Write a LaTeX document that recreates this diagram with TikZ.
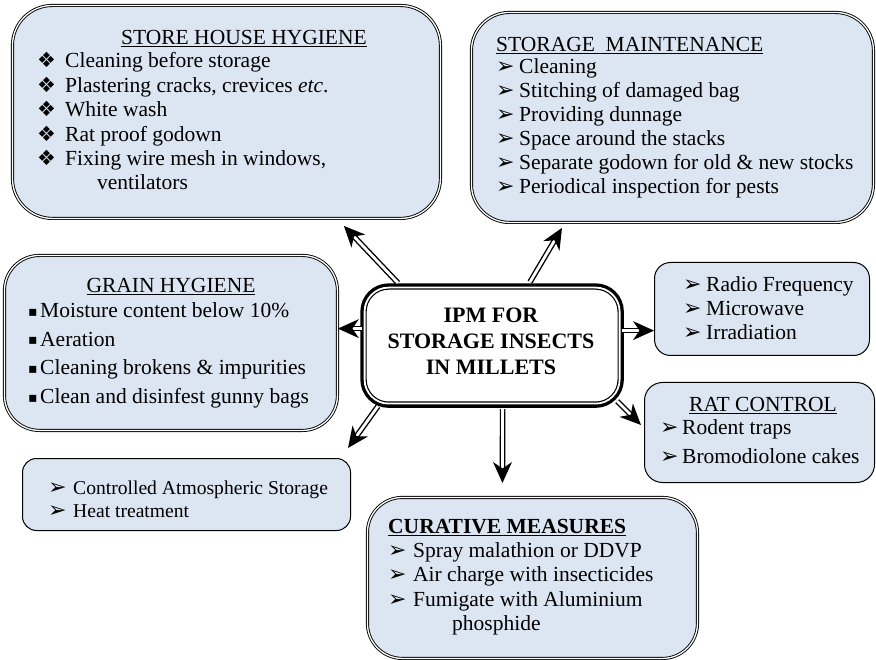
\documentclass[tikz,border=0pt]{standalone}
\usepackage{fontspec}
\setmainfont{Liberation Serif}
\newfontfamily\symfont{DejaVu Sans}
\usetikzlibrary{calc}

\definecolor{boxblue}{RGB}{220,230,242}
% bullets
\newcommand{\bdia}{\makebox[28pt][l]{\symfont\fontsize{21}{21}\selectfont ❖}}
\newcommand{\barr}[1][23pt]{\makebox[#1][l]{\symfont\fontsize{22}{22}\selectfont ➢}}
\newcommand{\bsq}{\makebox[12pt][l]{\raisebox{1.5pt}{\symfont\fontsize{14}{14}\selectfont ▪}}}

\begin{document}
\begin{tikzpicture}[x=1pt,y=-1pt,
		dblbox/.style={draw,line width=0.9pt,double=white,double distance=1.3pt,fill=boxblue,anchor=north west,inner sep=0pt},
		sglbox/.style={draw,line width=1pt,fill=boxblue,anchor=north west,inner sep=0pt},
		ipmbox/.style={draw,line width=1.2pt,double=white,double distance=1.8pt,fill=white,preaction={draw,line width=8.5pt},anchor=north west,inner sep=0pt},
		item/.style={anchor=base west,inner sep=0pt,font=\fontsize{21.5}{24}\selectfont},
		head/.style={anchor=base,inner sep=0pt,font=\fontsize{21.5}{24}\selectfont},
		bold/.style={font=\fontsize{22}{24}\selectfont\bfseries},
		conn/.style={draw,line width=1.4pt,double=white,double distance=2.8pt,shorten >=12pt},
		tiphead/.style={fill=black}]
	\useasboundingbox (0,0) rectangle (876,660);
	%% boxes
	\node (store) at (12,5) [dblbox,rounded corners=40pt,minimum width=428pt,minimum height=213pt] {};
	\node (maint) at (471,12) [dblbox,rounded corners=38pt,minimum width=402pt,minimum height=210pt] {};
	\node (grain) at (4,255) [dblbox,rounded corners=35pt,minimum width=333pt,minimum height=175pt] {};
	\node (ipm) at (364,287) [ipmbox,rounded corners=24pt,minimum width=255pt,minimum height=116pt] {};
	\node (radio) at (654,262) [sglbox,rounded corners=16pt,minimum width=215pt,minimum height=93pt] {};
	\node (rat) at (644,382) [sglbox,rounded corners=18pt,minimum width=230pt,minimum height=100pt] {};
	\node (ctrl) at (22,458) [sglbox,rounded corners=14pt,minimum width=328pt,minimum height=72pt] {};
	\node (cure) at (367,497) [dblbox,rounded corners=35pt,minimum width=330pt,minimum height=161pt] {};
	%% texts
	\node (sh-0) at (244,45) [head] {\underline{STORE HOUSE HYGIENE}};
	\foreach \t [count=\i] in {Cleaning before storage, {Plastering cracks, crevices \emph{etc}.}, White wash, Rat proof godown, {Fixing wire mesh in windows,}}
		\node (sh-\i) at (37,{43.5+24.5*\i}) [item] {\bdia\t};
	\node (sh-6) at (97,190) [item] {ventilators};
	\node (sm-0) at (496,52) [item] {\underline{STORAGE\ \ MAINTENANCE}};
	\foreach \t [count=\i] in {Cleaning, Stitching of damaged bag, Providing dunnage, Space around the stacks, Separate godown for old \& new stocks, Periodical inspection for pests}
		\node (sm-\i) at (496,{50+24*\i}) [item] {\barr\t};
	\node (gh-0) at (171,293) [head] {\underline{GRAIN HYGIENE}};
	\foreach \t [count=\i] in {Moisture content below 10\%, Aeration, Cleaning brokens \& impurities, Clean and disinfest gunny bags}
		\node (gh-\i) at (28,{289.5+28.5*\i}) [item] {\bsq\t};
	\foreach \t [count=\i] in {IPM FOR, STORAGE INSECTS, IN MILLETS}
		\node (ipm-\i) at (491,{297+26*\i}) [head,bold] {\t};
	\foreach \t [count=\i] in {Radio Frequency, Microwave, Irradiation}
		\node (rf-\i) at (683,{268+24*\i}) [item] {\barr\t};
	\node (rc-0) at (763,412) [head] {\underline{RAT CONTROL}};
	\foreach \t [count=\i] in {Rodent traps, Bromodiolone cakes}
		\node (rc-\i) at (660,{407+28*\i}) [item] {\barr[22pt]\t};
	\foreach \t [count=\i] in {Controlled Atmospheric Storage, Heat treatment}
		\node (ca-\i) at (48,{471+23*\i}) [item,font=\fontsize{19.6}{23}\selectfont] {\barr[25pt]\t};
	\node (cm-0) at (388,533) [item,font=\fontsize{21.5}{24}\selectfont\bfseries] {\underline{CURATIVE MEASURES}};
	\foreach \t [count=\i] in {Spray malathion or DDVP, Air charge with insecticides, Fumigate with Aluminium}
		\node (cm-\i) at (388,{532.5+24.5*\i}) [item] {\barr[25pt]\t};
	\node (cm-4) at (452,630) [item] {phosphide};
	%% arrow ends
	\coordinate (s-tail) at ([xshift=34pt,yshift=4pt]ipm.north west);
	\coordinate (s-tip) at ([xshift=-97pt,yshift=-7pt]store.south east);
	\coordinate (m-tail) at ([xshift=166pt,yshift=5pt]ipm.north west);
	\coordinate (m-tip) at ([xshift=91pt,yshift=-5pt]maint.south west);
	\coordinate (g-tail) at ([xshift=-2pt,yshift=17pt]ipm.west);
	\coordinate (g-tip) at (g-tail -| grain.east);
	\coordinate (a-tail) at ([xshift=14pt,yshift=-2pt]ipm.south west);
	\coordinate (a-tip) at ([xshift=-3pt,yshift=10pt]ctrl.north east);
	\coordinate (c-tail) at ([xshift=10.5pt,yshift=-5pt]ipm.south);
	\coordinate (c-tip) at ([xshift=-30pt,yshift=14pt]cure.north);
	\coordinate (r-tail) at ([xshift=2pt,yshift=15pt]ipm.east);
	\coordinate (r-tip) at (r-tail -| radio.west);
	\coordinate (k-tail) at ([xshift=-3pt,yshift=3pt]ipm.south east);
	\coordinate (k-tip) at ([xshift=-3pt,yshift=-43pt]rat.north west);
	%% arrows
	\foreach \a in {s,m,g,a,c,r,k} {
		\draw[conn] (\a-tail) -- (\a-tip);
		\coordinate (\a-back) at ($(\a-tip)!21pt!(\a-tail)$);
		\fill[tiphead] (\a-tip) -- ($(\a-back)!9.5pt!90:(\a-tip)$) -- ($(\a-tip)!14.5pt!(\a-tail)$) -- ($(\a-back)!9.5pt!-90:(\a-tip)$) -- cycle;
	}
\end{tikzpicture}
\end{document}
